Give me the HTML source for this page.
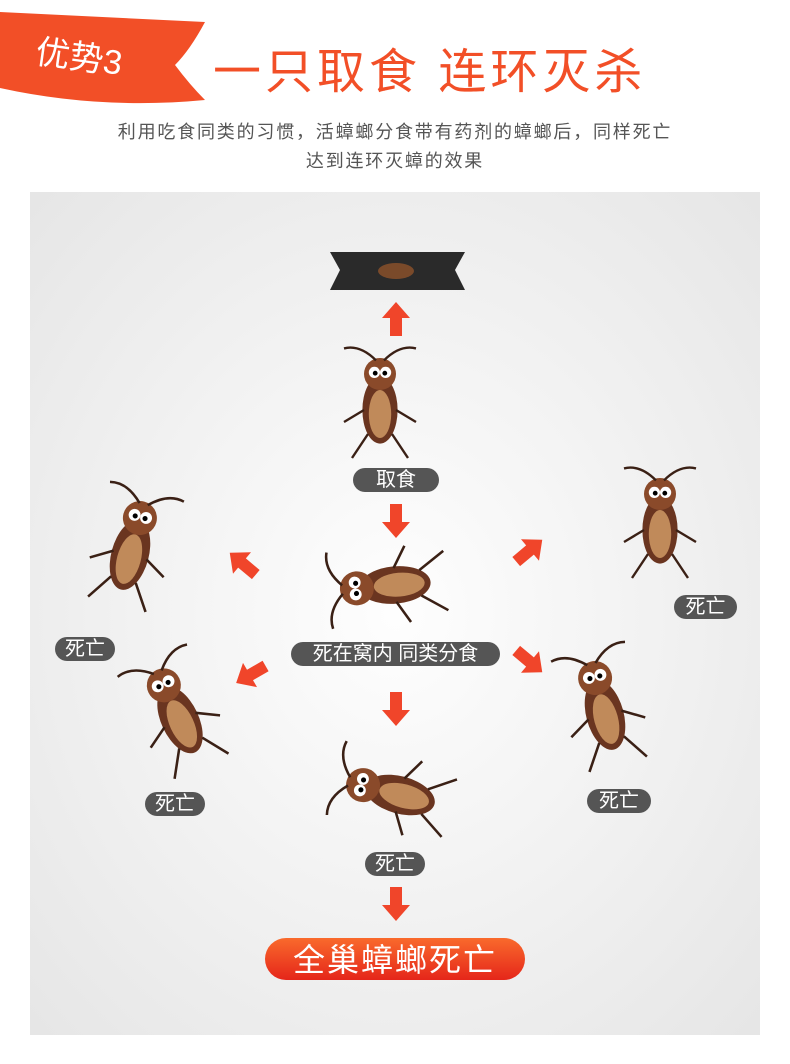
<!DOCTYPE html>
<html><head><meta charset="utf-8"><style>
body{margin:0;width:790px;height:1064px;background:#fff;position:relative;overflow:hidden;font-family:"Liberation Sans","Noto Sans CJK SC",sans-serif}
.t{position:absolute;white-space:nowrap}
.pill{position:absolute;background:#555;color:#fff;border-radius:12px;text-align:center;font-size:20px;line-height:24px;height:24px}
</style></head><body>
<svg width="790" height="1064" style="position:absolute;left:0;top:0">
<defs>
<radialGradient id="bg" cx="0.5" cy="0.5" r="0.7"><stop offset="0" stop-color="#fefefe"/><stop offset="1" stop-color="#e6e6e6"/></radialGradient>
<linearGradient id="btn" x1="0" y1="0" x2="0" y2="1"><stop offset="0" stop-color="#f96a2c"/><stop offset="1" stop-color="#e5261a"/></linearGradient>
<g id="ar"><path d="M-6,-18 L6,-18 L6,0 L14,0 L0,16 L-14,0 L-6,0Z" fill="#f0452a"/></g>
<g id="rc"><ellipse cx="0" cy="0" rx="22" ry="42" fill="#6a3520"/><ellipse cx="0" cy="5" rx="14" ry="30" fill="#c08a5a"/><circle cx="0" cy="-45" r="20" fill="#8a4a2a"/><circle cx="-7" cy="-47" r="7" fill="#fff"/><circle cx="7" cy="-47" r="7" fill="#fff"/><circle cx="-6" cy="-46" r="3"/><circle cx="6" cy="-46" r="3"/><path d="M-20,0 l-25,15 M20,0 l25,15 M-15,30 l-20,30 M15,30 l20,30 M-5,-62 q-20,-20 -40,-15 M5,-62 q20,-20 40,-15" stroke="#3a2015" stroke-width="3" fill="none"/></g>
</defs>
<path d="M0,12 L205,22 Q190,50 175,65 Q190,85 205,100 Q100,110 0,88Z" fill="#f24f27"/>
<rect x="30" y="192" width="730" height="843" fill="url(#bg)"/>
<path d="M330,252 L465,252 L455,270 L465,290 L330,290 L340,270Z" fill="#2a2a2a"/>
<ellipse cx="396" cy="271" rx="18" ry="8" fill="#7a4a2a"/>
<use href="#ar" transform="translate(396,318) rotate(180)"/>
<use href="#ar" transform="translate(396,522)"/>
<use href="#ar" transform="translate(396,710)"/>
<use href="#ar" transform="translate(396,905)"/>
<use href="#ar" transform="translate(242,563) rotate(130)"/>
<use href="#ar" transform="translate(530,550) rotate(-130)"/>
<use href="#ar" transform="translate(250,675) rotate(60)"/>
<use href="#ar" transform="translate(530,662) rotate(-50)"/>
<use href="#rc" transform="translate(380,410) scale(0.8)"/>
<use href="#rc" transform="translate(130,555) rotate(15) scale(0.85)"/>
<use href="#rc" transform="translate(660,530) scale(0.8)"/>
<use href="#rc" transform="translate(395,585) rotate(-95) scale(0.85)"/>
<use href="#rc" transform="translate(180,720) rotate(-25) scale(0.85)"/>
<use href="#rc" transform="translate(605,715) rotate(-15) scale(0.85)"/>
<use href="#rc" transform="translate(400,795) rotate(-75) scale(0.85)"/>
<rect x="265" y="938" width="260" height="42" rx="21" fill="url(#btn)"/>
</svg>
<div class="t" style="left:36px;top:30px;color:#fff;font-size:34px;transform:rotate(8deg)">优势3</div>
<div class="t" style="left:213px;top:32px;color:#f24f27;font-size:48px;letter-spacing:4px">一只取食 连环灭杀</div>
<div class="t" style="left:0;width:790px;text-align:center;top:118px;color:#555;font-size:18px;letter-spacing:1.8px;line-height:29px;white-space:normal">利用吃食同类的习惯，活蟑螂分食带有药剂的蟑螂后，同样死亡<br>达到连环灭蟑的效果</div>
<div class="pill" style="left:353px;top:468px;width:86px">取食</div>
<div class="pill" style="left:55px;top:637px;width:60px">死亡</div>
<div class="pill" style="left:291px;top:642px;width:209px">死在窝内 同类分食</div>
<div class="pill" style="left:674px;top:595px;width:63px">死亡</div>
<div class="pill" style="left:145px;top:792px;width:60px">死亡</div>
<div class="pill" style="left:587px;top:789px;width:64px">死亡</div>
<div class="pill" style="left:365px;top:852px;width:60px">死亡</div>
<div class="t" style="left:265px;width:260px;text-align:center;top:940px;color:#fff;font-size:32px;line-height:40px;letter-spacing:2px">全巢蟑螂死亡</div>
</body></html>
